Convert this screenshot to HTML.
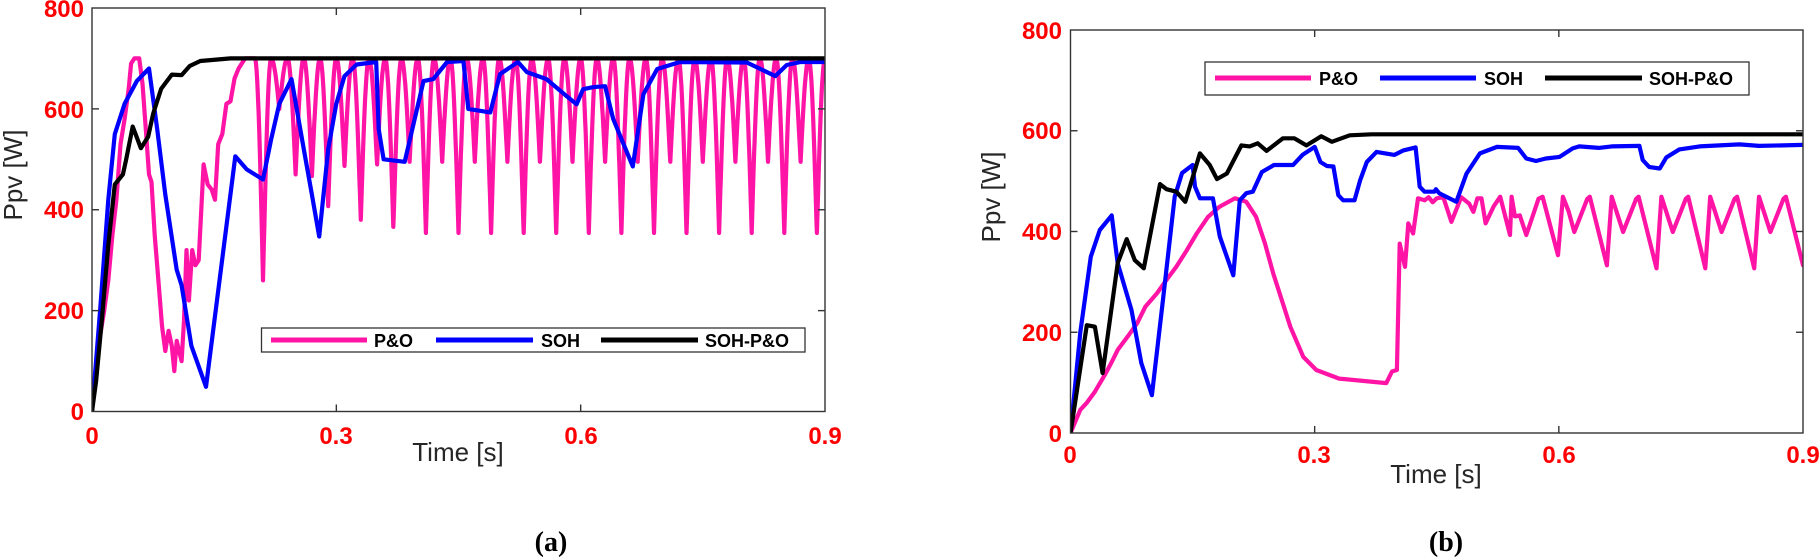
<!DOCTYPE html>
<html><head><meta charset="utf-8">
<style>
html,body{margin:0;padding:0;background:#fff;}
svg{display:block;}
</style></head>
<body>
<svg id="s" width="1819" height="560" xmlns="http://www.w3.org/2000/svg" font-family="Liberation Sans, Arial, sans-serif">
<rect width="1819" height="560" fill="#fff"/>
<g id="plots"></g>
<g font-weight="bold" font-size="24" fill="#ff0000" text-anchor="end">
<text x="84" y="17">800</text><text x="84" y="118">600</text><text x="84" y="218">400</text><text x="84" y="319">200</text><text x="84" y="420">0</text>
<text x="1062" y="39">800</text><text x="1062" y="139">600</text><text x="1062" y="240">400</text><text x="1062" y="341">200</text><text x="1062" y="442">0</text>
</g>
<g font-weight="bold" font-size="24" fill="#ff0000" text-anchor="middle">
<text x="92" y="444">0</text><text x="336" y="444">0.3</text><text x="581" y="444">0.6</text><text x="825" y="444">0.9</text>
<text x="1070" y="463">0</text><text x="1314" y="463">0.3</text><text x="1559" y="463">0.6</text><text x="1803" y="463">0.9</text>
</g>
<g font-size="26" fill="#262626" text-anchor="middle">
<text x="458" y="461">Time [s]</text>
<text x="1436" y="483">Time [s]</text>
<text transform="translate(22,175) rotate(-90)">Ppv [W]</text>
<text transform="translate(1000,197) rotate(-90)">Ppv [W]</text>
</g>
<g font-family="Liberation Serif, serif" font-weight="bold" font-size="28" text-anchor="middle" fill="#000">
<text x="551" y="551">(a)</text>
<text x="1446" y="551">(b)</text>
</g>
<g>
<rect x="261.5" y="328" width="543.5" height="24" fill="#fff" stroke="#333" stroke-width="1.3"/>
<line x1="271" y1="340" x2="367" y2="340" stroke="#ff14a6" stroke-width="5"/>
<line x1="436" y1="340" x2="533" y2="340" stroke="#0000ff" stroke-width="5"/>
<line x1="601" y1="340" x2="698" y2="340" stroke="#000" stroke-width="5"/>
<g font-weight="bold" font-size="18" fill="#000"><text x="374" y="347">P&amp;O</text><text x="541" y="347">SOH</text><text x="705" y="347">SOH-P&amp;O</text></g>
<rect x="1205" y="62" width="544" height="33" fill="#fff" stroke="#333" stroke-width="1.3"/>
<line x1="1215" y1="78" x2="1311" y2="78" stroke="#ff14a6" stroke-width="5"/>
<line x1="1380" y1="78" x2="1476" y2="78" stroke="#0000ff" stroke-width="5"/>
<line x1="1545" y1="78" x2="1642" y2="78" stroke="#000" stroke-width="5"/>
<g font-weight="bold" font-size="18" fill="#000"><text x="1319" y="85">P&amp;O</text><text x="1484" y="85">SOH</text><text x="1649" y="85">SOH-P&amp;O</text></g>
</g>
</svg>
<script>
var NS="http://www.w3.org/2000/svg";
var g=document.getElementById('plots');
function el(n,a){var e=document.createElementNS(NS,n);for(var k in a)e.setAttribute(k,a[k]);g.appendChild(e);return e;}
function panel(x0,x1,y0,y1,series){
  var sx=function(t){return x0+t*(x1-x0)/0.9;}, sy=function(p){return y0-p*(y0-y1)/800;};
  var id='c'+Math.round(x0);
  var cp=el('clipPath',{id:id});
  var r=document.createElementNS(NS,'rect');r.setAttribute('x',x0);r.setAttribute('y',y1);r.setAttribute('width',x1-x0);r.setAttribute('height',y0-y1);cp.appendChild(r);
  series.forEach(function(s){
    var d=s.pts.map(function(p,i){return (i?'L':'M')+sx(p[0]).toFixed(1)+' '+sy(p[1]).toFixed(1);}).join('');
    el('path',{d:d,fill:'none',stroke:s.c,'stroke-width':4.2,'stroke-linejoin':'round','stroke-linecap':'round','clip-path':'url(#'+id+')'});
  });
  el('rect',{x:x0,y:y1,width:x1-x0,height:y0-y1,fill:'none',stroke:'#333','stroke-width':1.4});
  [0.3,0.6].forEach(function(t){var x=sx(t);el('line',{x1:x,x2:x,y1:y0,y2:y0-7,stroke:'#333','stroke-width':1.4});el('line',{x1:x,x2:x,y1:y1,y2:y1+7,stroke:'#333','stroke-width':1.4});});
  [200,400,600].forEach(function(p){var y=sy(p);el('line',{x1:x0,x2:x0+7,y1:y,y2:y,stroke:'#333','stroke-width':1.4});el('line',{x1:x1,x2:x1-7,y1:y,y2:y,stroke:'#333','stroke-width':1.4});});
}
var pinkL=[[0,0],[0.005,90],[0.01,150],[0.015,200],[0.02,260],[0.025,350],[0.03,420],[0.035,530],[0.04,580],[0.045,640],[0.048,690],[0.052,700],[0.058,700],[0.062,650],[0.066,560],[0.07,470],[0.073,455],[0.077,350],[0.082,250],[0.086,170],[0.09,120],[0.094,160],[0.098,130],[0.101,80],[0.104,140],[0.107,120],[0.11,100],[0.113,180],[0.116,320],[0.119,220],[0.123,320],[0.127,290],[0.131,300],[0.137,490],[0.142,450],[0.147,440],[0.151,420],[0.155,530],[0.16,550],[0.165,610],[0.17,615],[0.175,660],[0.18,680],[0.188,700],[0.195,700]];
var deep=[260,470,407,380,366],shallow=[600,467,487,490];
function vk(k){if(k%2==0){var i=k/2;return i<deep.length?deep[i]:354;}var j=(k-1)/2;return j<shallow.length?shallow[j]:495;}
for(var t=0.2;t<=0.9001;t+=0.0005){var k=Math.round((t-0.21)/0.02);k=Math.max(0,Math.min(34,k));var tk=0.21+0.02*k;var d=Math.min(Math.abs(t-tk),0.01);var v=vk(k);pinkL.push([t,v+(700-v)*Math.sin(Math.PI/2*d/0.01)]);}
var blueL=[[0,0],[0.01,200],[0.02,420],[0.028,550],[0.04,610],[0.055,655],[0.07,680],[0.08,560],[0.09,430],[0.104,281],[0.11,250],[0.122,130],[0.14,49],[0.176,506],[0.19,480],[0.21,460],[0.22,540],[0.23,610],[0.245,659],[0.26,520],[0.27,430],[0.279,347],[0.29,520],[0.3,610],[0.31,665],[0.325,688],[0.349,693],[0.352,560],[0.358,500],[0.384,495],[0.407,655],[0.419,659],[0.436,693],[0.456,695],[0.462,600],[0.489,593],[0.501,669],[0.523,693],[0.534,673],[0.558,659],[0.583,625],[0.595,609],[0.603,639],[0.615,643],[0.63,645],[0.64,580],[0.664,486],[0.677,629],[0.694,679],[0.722,693],[0.804,692],[0.839,665],[0.853,687],[0.87,693],[0.9,693]];
var blackL=[[0,0],[0.005,60],[0.012,180],[0.02,330],[0.028,450],[0.038,470],[0.042,500],[0.05,565],[0.06,522],[0.069,545],[0.075,590],[0.085,640],[0.098,668],[0.11,667],[0.12,685],[0.133,695],[0.17,700],[0.9,700]];
var pinkR=[[0,0],[0.012,46],[0.02,60],[0.03,82],[0.042,115],[0.05,139],[0.058,165],[0.07,191],[0.082,218],[0.092,251],[0.106,277],[0.118,304],[0.13,330],[0.143,363],[0.155,396],[0.169,429],[0.183,449],[0.202,466],[0.216,459],[0.228,429],[0.239,376],[0.249,317],[0.261,257],[0.27,211],[0.286,151],[0.302,125],[0.33,108],[0.388,99],[0.395,122],[0.401,125],[0.4045,376],[0.411,330],[0.415,416],[0.421,396],[0.427,466],[0.435,462],[0.44,468],[0.445,458],[0.45,466],[0.458,468],[0.468,419],[0.48,468],[0.49,455],[0.495,439],[0.5,466],[0.505,466],[0.51,416],[0.52,450],[0.528,469],[0.54,393],[0.542,469],[0.546,430],[0.552,432],[0.56,393],[0.575,465],[0.58,469],[0.599,353],[0.605,469],[0.612,440],[0.619,399],[0.635,465],[0.638,469],[0.659,333],[0.665,469],[0.679,399],[0.695,465],[0.698,469],[0.72,327],[0.726,469],[0.74,399],[0.756,465],[0.759,469],[0.78,327],[0.786,469],[0.8,399],[0.816,465],[0.819,469],[0.84,327],[0.846,469],[0.86,399],[0.876,465],[0.879,469],[0.9,333]];
var blueR=[[0,0],[0.012,200],[0.025,350],[0.036,403],[0.0506,432],[0.058,337],[0.075,244],[0.087,139],[0.1,75],[0.114,270],[0.128,469],[0.137,516],[0.15,532],[0.153,489],[0.159,466],[0.175,466],[0.1835,390],[0.2,313],[0.208,462],[0.216,476],[0.224,479],[0.235,518],[0.25,532],[0.2735,532],[0.285,552],[0.3,568],[0.307,538],[0.315,530],[0.323,529],[0.329,472],[0.335,462],[0.349,462],[0.356,502],[0.364,538],[0.376,558],[0.398,552],[0.409,561],[0.424,567],[0.429,489],[0.435,479],[0.447,479],[0.449,484],[0.453,476],[0.474,459],[0.4865,515],[0.503,555],[0.524,568],[0.55,566],[0.56,545],[0.572,540],[0.584,545],[0.601,548],[0.617,565],[0.625,569],[0.649,566],[0.665,569],[0.699,570],[0.703,542],[0.711,528],[0.724,525],[0.732,547],[0.748,563],[0.773,569],[0.822,573],[0.846,570],[0.9,572]];
var blackR=[[0,0],[0.02,214],[0.03,211],[0.0395,119],[0.058,337],[0.069,385],[0.079,343],[0.09,327],[0.11,494],[0.118,484],[0.13,479],[0.141,459],[0.159,555],[0.171,532],[0.18,504],[0.192,515],[0.21,571],[0.22,569],[0.23,575],[0.241,560],[0.261,585],[0.275,585],[0.29,571],[0.308,589],[0.321,578],[0.343,591],[0.37,593],[0.9,593]];
panel(92,825,411.5,8,[{pts:pinkL,c:'#ff14a6'},{pts:blueL,c:'#0000ff'},{pts:blackL,c:'#000'}]);
panel(1070.5,1803,433,30,[{pts:pinkR,c:'#ff14a6'},{pts:blueR,c:'#0000ff'},{pts:blackR,c:'#000'}]);
</script>
</body></html>
